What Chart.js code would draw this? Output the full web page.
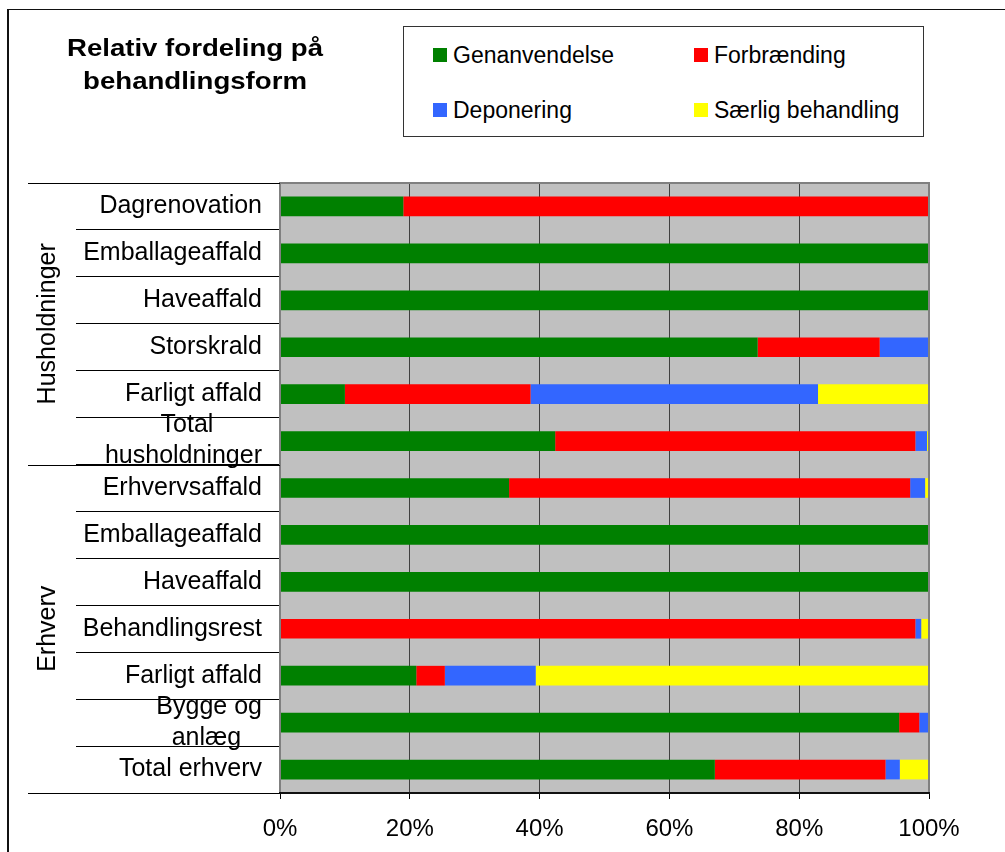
<!DOCTYPE html>
<html>
<head>
<meta charset="utf-8">
<script src="https://cdn.jsdelivr.net/npm/chart.js@4.4.0/dist/chart.umd.min.js"></script>
<style>
  html, body { margin: 0; padding: 0; background: #fff; }
  #wrap { position: relative; width: 1005px; height: 852px; overflow: hidden;
          font-family: "Liberation Sans", Arial, sans-serif; color: #000; }
  #frame { position: absolute; left: 7px; top: 9px; width: 1200px; height: 1200px;
           border-left: 2px solid #111; border-top: 1px solid #111; }
  #title { position: absolute; left: 195px; top: 31px; transform: translateX(-50%) scaleX(1.15);
           font-weight: bold; font-size: 24px; line-height: 33px; text-align: center; white-space: nowrap; }
  #legend { position: absolute; left: 403px; top: 26px; width: 521px; height: 111px;
            border: 1px solid #333; box-sizing: border-box; background: #fff; }
  .item { position: absolute; height: 30px; display: flex; align-items: center;
          font-size: 23px; white-space: nowrap; }
  .sw { width: 14px; height: 14px; margin-right: 6px; flex: none; }
  canvas { position: absolute; left: 0; top: 0; }
</style>
</head>
<body>
<div id="wrap">
  <div id="frame"></div>
  <canvas id="c" width="1005" height="852"></canvas>
  <div id="title">Relativ fordeling på<br>behandlingsform</div>
  <div id="legend"></div>
</div>
<script>
// ---- data ----
const categories = [
  'Dagrenovation', 'Emballageaffald', 'Haveaffald', 'Storskrald', 'Farligt affald',
  ['Total       ', 'husholdninger'],
  'Erhvervsaffald', 'Emballageaffald', 'Haveaffald', 'Behandlingsrest', 'Farligt affald',
  ['Bygge og', 'anlæg   '],
  'Total erhverv'
];
const groupNames = ['Husholdninger', 'Erhverv'];
const groupFirst = [0, 6];
const groupLast = [5, 12];

const seriesNames = ['Genanvendelse', 'Forbrænding', 'Deponering', 'Særlig behandling'];
const seriesColors = ['#008000', '#FF0000', '#3366FF', '#FFFF00'];

const genanvendelse = [19, 100, 100, 73.6, 10, 42.4, 35.3, 100, 100, 0, 21, 95.4, 67];
const forbraending  = [81, 0, 0, 18.8, 28.6, 55.5, 61.8, 0, 0, 97.9, 4.4, 3.1, 26.3];
const deponering    = [0, 0, 0, 7.6, 44.3, 1.8, 2.3, 0, 0, 0.9, 14, 1.5, 2.2];
const saerlig       = [0, 0, 0, 0, 17.1, 0.3, 0.6, 0, 0, 1.2, 60.6, 0, 4.5];
const seriesValues = [genanvendelse, forbraending, deponering, saerlig];

const xTickValues = [0, 20, 40, 60, 80, 100];

// ---- legend (HTML, built from series arrays) ----
const legendEl = document.getElementById('legend');
const legendPos = [[29, 13], [290, 13], [29, 68], [290, 68]];
seriesNames.forEach((name, i) => {
  const it = document.createElement('div');
  it.className = 'item';
  it.style.left = legendPos[i][0] + 'px';
  it.style.top = legendPos[i][1] + 'px';
  const sw = document.createElement('span');
  sw.className = 'sw';
  sw.style.background = seriesColors[i];
  const tx = document.createElement('span');
  tx.textContent = name;
  it.appendChild(sw); it.appendChild(tx);
  legendEl.appendChild(it);
});

// ---- chart ----
const FONT = '"Liberation Sans", Arial, sans-serif';
Chart.defaults.font.family = FONT;
Chart.defaults.color = '#000';

const decor = {
  id: 'decor',
  beforeDraw(chart) {
    const { ctx, chartArea: a } = chart;
    ctx.save();
    ctx.fillStyle = '#C0C0C0';
    ctx.fillRect(a.left, a.top, a.right - a.left, a.bottom - a.top);
    ctx.restore();
  },
  afterDatasetsDraw(chart) {
    const { ctx, chartArea: a, scales: { y } } = chart;
    ctx.save();
    // plot frame
    ctx.strokeStyle = '#808080';
    ctx.lineWidth = 2;
    ctx.beginPath();
    ctx.moveTo(a.left, a.bottom);
    ctx.lineTo(a.left, a.top);
    ctx.lineTo(a.right, a.top);
    ctx.lineTo(a.right, a.bottom);
    ctx.stroke();
    // x axis line
    ctx.strokeStyle = '#111';
    ctx.lineWidth = 2;
    ctx.beginPath();
    ctx.moveTo(a.left - 1, a.bottom);
    ctx.lineTo(a.right + 1, a.bottom);
    ctx.stroke();
    // group separators + labels
    const half = (y.getPixelForValue(1) - y.getPixelForValue(0)) / 2;
    ctx.strokeStyle = '#000';
    ctx.lineWidth = 1;
    ctx.fillStyle = '#000';
    ctx.font = '25px ' + FONT;
    groupNames.forEach((name, g) => {
      const top = y.getPixelForValue(groupFirst[g]) - half;
      const bot = y.getPixelForValue(groupLast[g]) + half;
      [top, bot].forEach(v => {
        const py = Math.round(v) + 0.5;
        ctx.beginPath();
        ctx.moveTo(28, py);
        ctx.lineTo(a.left, py);
        ctx.stroke();
      });
      ctx.save();
      ctx.translate(48, (top + bot) / 2);
      ctx.rotate(-Math.PI / 2);
      ctx.textAlign = 'center';
      ctx.textBaseline = 'middle';
      ctx.fillText(name, 0, 0);
      ctx.restore();
    });
    ctx.restore();
  }
};

new Chart(document.getElementById('c'), {
  type: 'bar',
  data: {
    labels: categories,
    datasets: seriesNames.map((n, i) => ({
      label: n,
      data: seriesValues[i],
      backgroundColor: seriesColors[i],
      borderWidth: 0,
      barPercentage: 0.42,
      categoryPercentage: 1
    }))
  },
  options: {
    indexAxis: 'y',
    responsive: false,
    animation: false,
    layout: { padding: { top: 183, right: 76, bottom: 0, left: 0 } },
    plugins: { legend: { display: false }, tooltip: { enabled: false }, title: { display: false } },
    scales: {
      x: {
        stacked: true,
        min: 0, max: 100,
        afterBuildTicks: s => { s.ticks = xTickValues.map(v => ({ value: v })); },
        ticks: { callback: v => v + '%', font: { size: 24 }, padding: 16, maxRotation: 0, color: '#000' },
        grid: { color: '#404040', lineWidth: 1, drawTicks: true, tickLength: 6, tickColor: '#000' },
        border: { display: false },
        afterFit: s => { s.height = 59; }
      },
      y: {
        stacked: true,
        ticks: { font: { size: 25, lineHeight: 1.24 }, padding: -186, autoSkip: false, color: '#000' },
        grid: { display: true, drawOnChartArea: false, drawTicks: true, tickLength: 204,
                color: '#000', lineWidth: 1, offset: true },
        border: { display: false },
        afterFit: s => { s.width = 280; }
      }
    }
  },
  plugins: [decor]
});
</script>
</body>
</html>
